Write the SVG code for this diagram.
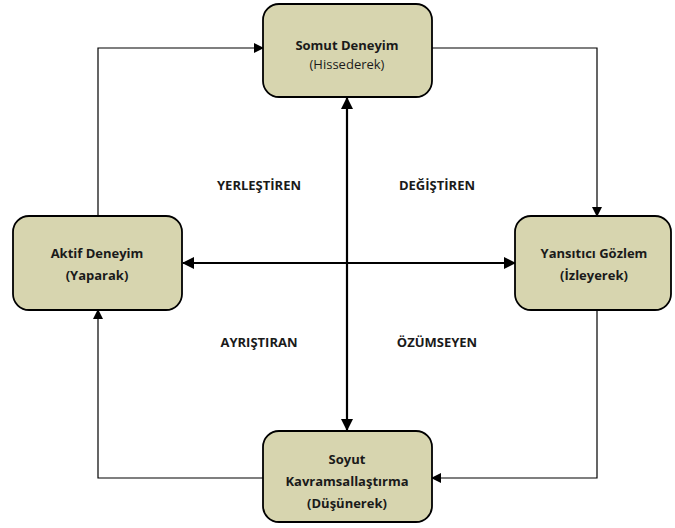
<svg xmlns="http://www.w3.org/2000/svg" width="675" height="528" viewBox="0 0 675 528">
<defs>
<marker id="ah" markerWidth="12" markerHeight="12" refX="11" refY="6" orient="auto" markerUnits="userSpaceOnUse">
<path d="M0,0 L12,6 L0,12 Z" fill="#000"/>
</marker>
<marker id="as" markerWidth="12" markerHeight="12" refX="1" refY="6" orient="auto" markerUnits="userSpaceOnUse">
<path d="M12,0 L0,6 L12,12 Z" fill="#000"/>
</marker>
<marker id="sh" markerWidth="10" markerHeight="10" refX="9" refY="5" orient="auto" markerUnits="userSpaceOnUse">
<path d="M0,0 L10,5 L0,10 Z" fill="#000"/>
</marker>
<style>
.box{fill:#d7d5af;stroke:#000;stroke-width:1.8}
.t{font-family:"Open Sans","Liberation Sans",sans-serif;font-size:13px;fill:#1a1a1a;text-anchor:middle;font-weight:bold}
.n{font-weight:normal}
.c{fill:none;stroke:#000;stroke-width:1.2}
.d{fill:none;stroke:#000;stroke-width:2.2}
</style>
</defs>
<rect width="675" height="528" fill="#fff"/>
<g id="connectors">
<path class="c" d="M98,216 V48 H263" marker-end="url(#sh)"/>
<path class="c" d="M432,48 H597 V216" marker-end="url(#sh)"/>
<path class="c" d="M597,310 V478 H432" marker-end="url(#sh)"/>
<path class="c" d="M263,478 H98 V310" marker-end="url(#sh)"/>
<path class="d" d="M347,98 V430" marker-start="url(#as)" marker-end="url(#ah)"/>
<path class="d" d="M183,263 H515" marker-start="url(#as)" marker-end="url(#ah)"/>
</g>
<g id="somut">
<rect class="box" x="263" y="4" width="169" height="93" rx="16"/>
<text class="t" x="347" y="50">Somut Deneyim</text>
<text class="t n" x="347" y="69">(Hissederek)</text>
</g>
<g id="aktif">
<rect class="box" x="13" y="216" width="169" height="94" rx="16"/>
<text class="t" x="97" y="258">Aktif Deneyim</text>
<text class="t" x="97" y="280">(Yaparak)</text>
</g>
<g id="yansitici">
<rect class="box" x="515" y="216" width="156" height="94" rx="16"/>
<text class="t" x="594" y="258">Yansıtıcı Gözlem</text>
<text class="t" x="594" y="280">(İzleyerek)</text>
</g>
<g id="soyut">
<rect class="box" x="263" y="431" width="169" height="91" rx="16"/>
<text class="t" x="347" y="464">Soyut</text>
<text class="t" x="347" y="486">Kavramsallaştırma</text>
<text class="t" x="347" y="508">(Düşünerek)</text>
</g>
<g id="labels">
<text class="t" x="259" y="190">YERLEŞTİREN</text>
<text class="t" x="437" y="190">DEĞİŞTİREN</text>
<text class="t" x="259" y="347">AYRIŞTIRAN</text>
<text class="t" x="437" y="347">ÖZÜMSEYEN</text>
</g>
</svg>
